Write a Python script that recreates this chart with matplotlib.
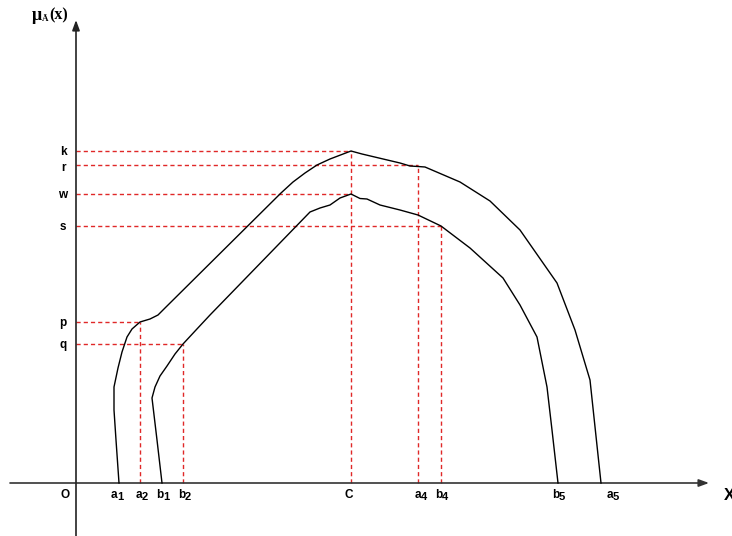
import matplotlib
matplotlib.use("Agg")
import matplotlib.pyplot as plt

# ---- data (origin O at axes crossing) ----
outer_x = [43, 40, 38, 38, 42, 46, 51, 56, 64, 74, 82, 89, 205, 217, 229, 241, 254, 275,
           286, 324, 334, 342, 349, 384, 414, 444, 481, 499, 514, 525]
outer_y = [0, 43, 73, 96, 115, 131, 146, 154, 161, 164, 168, 175, 290, 301, 310, 318, 324, 332,
           329, 320, 317, 316.5, 316, 301, 282, 253, 200, 153, 103, 0]

inner_x = [86, 81, 76, 79, 84, 91, 99, 107, 120, 134, 234, 244, 254, 264, 275, 284, 291, 304,
           324, 342, 365, 394, 427, 444, 461, 471, 476, 482]
inner_y = [0, 43, 85, 96, 107, 117, 129, 139, 153, 168, 271, 275, 278, 285, 289, 284.5, 284, 278,
           273, 268, 257, 235, 205, 178, 146, 96, 53, 0]

level_names = ["k", "r", "w", "s", "p", "q"]
level_vals = [332, 318, 289, 257, 161, 139]
level_ends = [275, 342, 275, 365, 64, 107]
level_label_y = [331, 315, 288, 256, 160, 138]

xtick_letters = ["a", "a", "b", "b", "C", "a", "b", "b", "a"]
xtick_subs = ["1", "2", "1", "2", "", "4", "4", "5", "5"]
xtick_label_x = [41, 66, 87, 109, 273, 345, 366, 483, 537]

vline_x = [64, 107, 275, 342, 365]
vline_top = [161, 139, 332, 318, 257]

fig = plt.figure(figsize=(7.32, 5.36), dpi=100)
ax = fig.add_axes([0, 0, 1, 1])
ax.set_xlim(-76, 656)
ax.set_ylim(-53, 483)
ax.axis("off")

red = "#e02828"
dash = (0, (3, 2.2))
font = "Liberation Sans"

# axes with arrows
ax.annotate("", xy=(633, 0), xytext=(-66, 0),
            arrowprops=dict(arrowstyle="-|>,head_length=0.6,head_width=0.22", color="#333333", lw=1.2,
                            shrinkA=0, shrinkB=0))
ax.annotate("", xy=(0, 463), xytext=(0, -53),
            arrowprops=dict(arrowstyle="-|>,head_length=0.6,head_width=0.22", color="#222222", lw=1.2,
                            shrinkA=0, shrinkB=0))

# dashed guide lines
for v, e in zip(level_vals, level_ends):
    ax.plot([0, e], [v, v], color=red, lw=1, linestyle=dash, zorder=2)
for x, t in zip(vline_x, vline_top):
    ax.plot([x, x], [0, t], color=red, lw=1, linestyle=dash, zorder=2)

# curves
ax.plot(outer_x, outer_y, color="black", lw=1.0, zorder=3)
ax.plot(inner_x, inner_y, color="black", lw=1.0, zorder=3)

# labels
for n, ly in zip(level_names, level_label_y):
    ax.text(-13, ly, n, ha="center", va="center", fontsize=8.5, fontweight="bold", family=font)
ax.text(-11, -12, "O", ha="center", va="center", fontsize=8.5, fontweight="bold", family=font)
for let, sub, x in zip(xtick_letters, xtick_subs, xtick_label_x):
    if sub:
        ax.text(x, -12, let, ha="right", va="center", fontsize=8.5, fontweight="bold", family=font)
        ax.text(x, -14, sub, ha="left", va="center", fontsize=8, fontweight="bold", family=font)
    else:
        ax.text(x, -12, let, ha="center", va="center", fontsize=8.5, fontweight="bold", family=font)
ax.text(648, -12, "X", ha="left", va="center", fontsize=12, fontweight="bold", family=font)

# y label  mu_A~(x)
ax.text(-44, 468, "μ", ha="left", va="center", fontsize=13, fontweight="bold",
        family="Liberation Serif")
ax.text(-34.5, 464, "Ã", ha="left", va="center", fontsize=6.5, fontweight="bold",
        family="Liberation Serif")
ax.text(-27, 468, "(x)", ha="left", va="center", fontsize=11.5, fontweight="bold",
        family="Liberation Serif")

fig.savefig("out.png", dpi=100)
